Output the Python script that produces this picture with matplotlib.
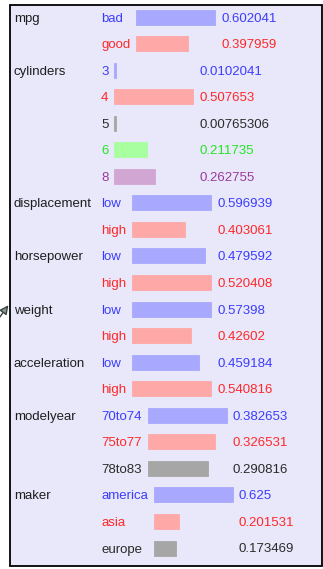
import matplotlib.pyplot as plt
from matplotlib.patches import Rectangle

# node marginals, one list per variable
variables = ["mpg", "cylinders", "displacement", "horsepower", "weight",
             "acceleration", "modelyear", "maker"]
states = [
    ["bad", "good"],
    ["3", "4", "5", "6", "8"],
    ["low", "high"],
    ["low", "high"],
    ["low", "high"],
    ["low", "high"],
    ["70to74", "75to77", "78to83"],
    ["america", "asia", "europe"],
]
probs = [
    [0.602041, 0.397959],
    [0.0102041, 0.507653, 0.00765306, 0.211735, 0.262755],
    [0.596939, 0.403061],
    [0.479592, 0.520408],
    [0.57398, 0.42602],
    [0.459184, 0.540816],
    [0.382653, 0.326531, 0.290816],
    [0.625, 0.201531, 0.173469],
]
value_labels = [
    ["0.602041", "0.397959"],
    ["0.0102041", "0.507653", "0.00765306", "0.211735", "0.262755"],
    ["0.596939", "0.403061"],
    ["0.479592", "0.520408"],
    ["0.57398", "0.42602"],
    ["0.459184", "0.540816"],
    ["0.382653", "0.326531", "0.290816"],
    ["0.625", "0.201531", "0.173469"],
]

bar_colors = ["#a8a8ff", "#ffa8a8", "#a6a6a6", "#a8ffa0", "#d2a6d2"]
text_colors = ["#3c3cff", "#ff2828", "#2a2a2a", "#22e622", "#9a3a9a"]

W, H = 323, 569
fig = plt.figure(figsize=(W / 100, H / 100), dpi=100)
ax = fig.add_axes([0, 0, 1, 1])
ax.set_xlim(0, W)
ax.set_ylim(H, 0)
ax.axis("off")

font = dict(family="Liberation Sans", size=9.5)

# node box
ax.add_patch(Rectangle((9.5, 4.5), 312, 561.5, facecolor="#e8e8fa",
                       edgecolor="black", linewidth=1.3, zorder=1))

# incoming edge from the left
ax.annotate("", xy=(10, 303), xytext=(-6, 325),
            arrowprops=dict(arrowstyle="-|>", color="#3a4444", lw=1.0,
                            mutation_scale=13, fc="#8a9898"))

renderer = fig.canvas.get_renderer()

def text_width(s):
    t = ax.text(0, 0, s, **font)
    bb = t.get_window_extent(renderer=renderer)
    t.remove()
    return bb.width

row = 0
row_h = 26.55
state_x = 101
bar_len = 79
for var, sts, ps, vls in zip(variables, states, probs, value_labels):
    y0 = 17 + row * row_h
    ax.text(14, y0, var, color="#1e1e1e", va="center_baseline", **font)
    bar_x = state_x + max(text_width(s) for s in sts) + 6
    pmax = max(ps)
    ys = [17 + (row + i) * row_h for i in range(len(sts))]
    colors = [bar_colors[i] for i in range(len(sts))]
    ax.barh(ys, [p / pmax * bar_len for p in ps], left=bar_x, height=15,
            color=colors, edgecolor=colors, linewidth=0.6, zorder=2)
    for i, (s, vl) in enumerate(zip(sts, vls)):
        ax.text(state_x, ys[i], s, color=text_colors[i],
                va="center_baseline", **font)
        ax.text(bar_x + bar_len + 6, ys[i], vl, color=text_colors[i],
                va="center_baseline", **font)
    row += len(sts)

fig.savefig("out.png", dpi=100, facecolor="white")
